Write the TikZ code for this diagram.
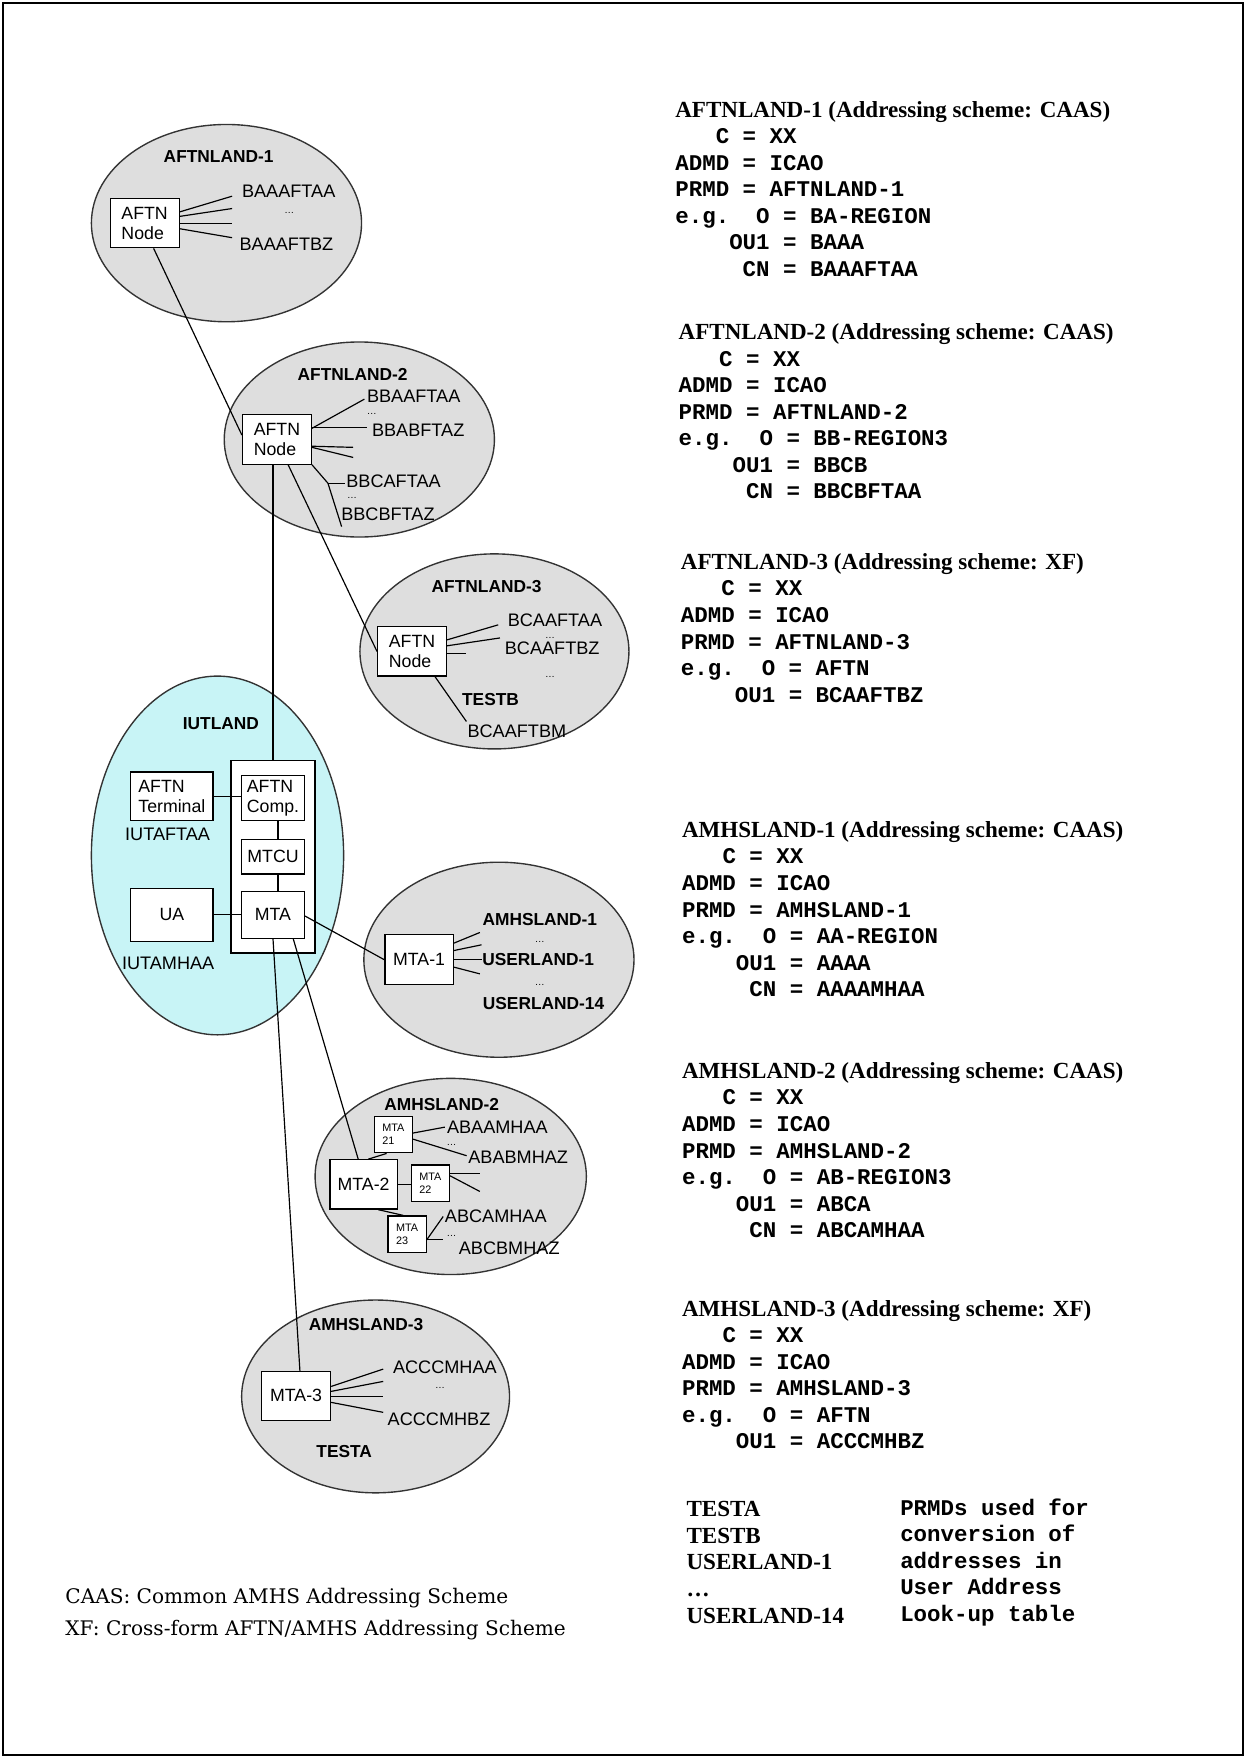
\documentclass[tikz,border=0pt]{standalone}
\usepackage{fontspec}
\setmainfont{Liberation Serif}
\setsansfont{Liberation Sans}
\setmonofont{Liberation Mono}
\newfontfamily\notefont{DejaVu Serif}
\usetikzlibrary{shapes}
\definecolor{iutcyan}{RGB}{200,244,246}

\begin{document}
\begin{tikzpicture}[x=0.02cm,y=-0.02cm]
  %% AFTN / AMHS

  \tikzstyle{every edge}=[draw,line width=.6pt]
  \tikzstyle{pays}=[ellipse,draw=black!80,fill=black!13,line width=.7pt,inner sep=0pt]
  \tikzstyle{boite}=[rectangle,draw,fill=white,line width=.6pt,align=left,inner sep=1pt,
    font=\sffamily\fontsize{9}{10.2}\selectfont]
  \tikzstyle{mini}=[boite,minimum width=.68cm,minimum height=.65cm,
    font=\sffamily\fontsize{5.5}{6.5}\selectfont]
  \tikzstyle{titre}=[inner sep=0pt,font=\sffamily\bfseries\fontsize{8.8}{10}\selectfont]
  \tikzstyle{adr}=[inner sep=0pt,font=\sffamily\fontsize{9.2}{10}\selectfont]
  \tikzstyle{pts}=[inner sep=0pt,font=\sffamily\fontsize{5}{5}\selectfont]
  \tikzstyle{entete}=[anchor=west,inner sep=0pt,text height=1.6ex,text depth=.4ex,
    font=\bfseries\fontsize{11.7}{13}\selectfont]
  \tikzstyle{mono}=[anchor=west,inner sep=0pt,text height=1.6ex,text depth=.4ex,
    font=\ttfamily\bfseries\fontsize{11.4}{13}\selectfont]
  \tikzstyle{note}=[anchor=west,inner sep=0pt,font=\notefont\fontsize{10.2}{12}\selectfont]

  \useasboundingbox (0,0) rectangle (1112,1568);
  \draw[line width=1.1pt] (3,3) rectangle (1109,1565);

  % les pays
  \node[pays,minimum width=4.82cm,minimum height=3.52cm] (aftn1) at (202,199) {};
  \node[pays,minimum width=4.82cm,minimum height=3.48cm] (aftn2) at (320.5,392) {};
  \node[pays,minimum width=4.80cm,minimum height=3.48cm] (aftn3) at (441,581) {};
  \node[pays,fill=iutcyan,minimum width=4.50cm,minimum height=6.40cm] (iut) at (194,763) {};
  \node[pays,minimum width=4.82cm,minimum height=3.48cm] (amhs1) at (445,856) {};
  \node[pays,minimum width=4.84cm,minimum height=3.50cm] (amhs2) at (402,1049.3) {};
  \node[pays,minimum width=4.78cm,minimum height=3.44cm] (amhs3) at (335,1245.5) {};

  % les boites
  \node[boite,minimum width=1.23cm,minimum height=.88cm] (noeud1) at (129,199) {AFTN\\Node};
  \node[boite,minimum width=1.23cm,minimum height=.88cm] (noeud2) at (247,392) {AFTN\\Node};
  \node[boite,minimum width=1.23cm,minimum height=.88cm] (noeud3) at (367.5,581) {AFTN\\Node};
  \node[boite,minimum width=1.47cm,minimum height=.87cm] (term) at (153.3,710.3) {AFTN\\Terminal};
  \node[boite,minimum width=1.47cm,minimum height=.95cm] (ua) at (153.3,816) {UA};
  \node[boite,minimum width=1.50cm,minimum height=3.44cm] (iutbox) at (243.5,764) {};
  \node[boite,minimum width=1.12cm,minimum height=.80cm] (comp) at (243.5,712) {AFTN\\Comp.};
  \node[boite,minimum width=1.12cm,minimum height=.62cm] (mtcu) at (243.5,764) {MTCU};
  \node[boite,minimum width=1.12cm,minimum height=.84cm] (mta) at (243.5,816) {MTA};
  \node[boite,minimum width=1.22cm,minimum height=.89cm] (mta1) at (373.8,856) {MTA-1};
  \node[boite,minimum width=1.20cm,minimum height=.88cm] (mta2) at (324.3,1056.4) {MTA-2};
  \node[mini] (mta21) at (350.8,1012) {MTA\\21};
  \node[mini] (mta22) at (383.9,1055.3) {MTA\\22};
  \node[mini] (mta23) at (363.1,1100.8) {MTA\\23};
  \node[boite,minimum width=1.23cm,minimum height=.87cm] (mta3) at (264.1,1245) {MTA-3};

  % noms et adresses
  \foreach \s/\x/\y/\t [count=\i] in {titre/195/140/AFTNLAND-1, adr/257.5/171/BAAAFTAA,
      pts/258/190/\ldots, adr/255.5/218/BAAAFTBZ,
      titre/314.5/334/AFTNLAND-2, adr/369/353/BBAAFTAA, pts/331.6/369/\ldots,
      adr/373/384/BBABFTAZ, adr/351/429/BBCAFTAA, pts/314/444/\ldots, adr/346/459/BBCBFTAZ,
      titre/434/523/AFTNLAND-3, adr/495/553/BCAAFTAA, pts/490.5/569/\ldots,
      adr/492.5/578/BCAAFTBZ, pts/490.5/603.4/\ldots, titre/437.5/623.5/TESTB,
      adr/461/652.5/BCAAFTBM,
      titre/197/645.6/IUTLAND, adr/149.5/744.6/IUTAFTAA, adr/150/859/IUTAMHAA,
      titre/481.5/820.4/AMHSLAND-1, pts/481.5/840.6/\ldots, titre/480/856/USERLAND-1,
      pts/481.5/878.4/\ldots, titre/484.8/894.7/USERLAND-14,
      titre/394/985.4/AMHSLAND-2, adr/443.6/1005.3/ABAAMHAA, pts/402.8/1021/\ldots,
      adr/462.2/1032/ABABMHAZ, adr/442.2/1084.4/ABCAMHAA, pts/402.8/1102.8/\ldots,
      adr/454.2/1113.2/ABCBMHAZ,
      titre/326.5/1181.6/AMHSLAND-3, adr/396.8/1219.3/ACCCMHAA, pts/392.4/1238/\ldots,
      adr/391.6/1266.3/ACCCMHBZ, titre/307/1294.5/TESTA}{
    \node[\s] (lab\i) at (\x,\y) {\t};
  }

  % eventails vers les adresses
  \foreach \b/\ya/\xb/\yb [count=\i] in {noeud1/189/207/175, noeud1/193/207/186,
      noeud1/199/207/199, noeud1/204/207/212,
      noeud2/382/325/356, noeud2/381/327/381, noeud2/398/315/399, noeud2/399/315/408,
      noeud3/570.7/444.4/557.3, noeud3/576/445.9/569, noeud3/582.5/416/582.5,
      mta1/841.2/428/831.7, mta1/847.8/429.5/842.7, mta1/856/429.5/856, mta1/862.6/428/868.6,
      mta21/1010.6/396.8/1005.3, mta21/1016/416.2/1030.8,
      mta22/1046.9/428/1046.9, mta22/1048.7/428/1062.7,
      mta23/1105.8/395.3/1085, mta23/1105.8/395.3/1105.8,
      mta3/1236.6/341.8/1221.1, mta3/1241/341.8/1232.1,
      mta3/1245.5/341.8/1245.5, mta3/1250.8/341.8/1259.7}{
    \coordinate (f\i) at (\xb,\yb);
    \path (\b.east |- 0,\ya) edge (f\i);
  }
  \coordinate (j2) at (292.5,431);
  \coordinate (g1) at (307.6,431);
  \coordinate (g2) at (304.7,469.7);
  \coordinate (g3) at (416,643.5);
  \path (noeud2.south east) edge (j2)
  (j2) edge (g1)
  (j2) edge (g2)
  (noeud3.south -| 388,0) edge (g3);

  % liaisons
  \path (noeud1.south -| 137,0) edge (noeud2.west |- 0,388)
  (noeud2.south -| iutbox.north) edge (iutbox.north)
  (noeud2.south -| 257,0) edge (noeud3.west)
  (term.east) edge (term.east -| comp.west)
  (ua.east) edge (ua.east -| mta.west)
  (comp.south -| 248,0) edge (mtcu.north -| 248,0)
  (mtcu.south -| 248,0) edge (mta.north -| 248,0)
  (mta.east |- 0,817) edge (mta1.west)
  (mta.south) edge (mta3.north -| 267.5,0)
  (mta.south -| 261.6,0) edge (mta2.north -| 319.5,0)
  (mta2.north -| 328.4,0) edge (mta21.south -| 344.8,0)
  (mta2.east) edge (mta2.east -| mta22.west)
  (mta2.south -| 337.4,0) edge (mta23.north -| 359.7,0);

  % schemas d'adressage
  \node[entete] (b1) at (602,99.6) {AFTNLAND-1 (Addressing scheme: CAAS)};
  \foreach \t [count=\i] in {~~~C = XX,ADMD = ICAO,PRMD = AFTNLAND-1,e.g.~~O = BA-REGION,
      ~~~~OU1 = BAAA,~~~~~CN = BAAAFTAA}
    \node[mono] (b1-\i) at (602,{99.6+23.7*\i}) {\t};

  \node[entete] (b2) at (605,298) {AFTNLAND-2 (Addressing scheme: CAAS)};
  \foreach \t [count=\i] in {~~~C = XX,ADMD = ICAO,PRMD = AFTNLAND-2,e.g.~~O = BB-REGION3,
      ~~~~OU1 = BBCB,~~~~~CN = BBCBFTAA}
    \node[mono] (b2-\i) at (605,{298+23.7*\i}) {\t};

  \node[entete] (b3) at (607,503) {AFTNLAND-3 (Addressing scheme: XF)};
  \foreach \t [count=\i] in {~~~C = XX,ADMD = ICAO,PRMD = AFTNLAND-3,e.g.~~O = AFTN,
      ~~~~OU1 = BCAAFTBZ}
    \node[mono] (b3-\i) at (607,{503+23.7*\i}) {\t};

  \node[entete] (b4) at (608,742) {AMHSLAND-1 (Addressing scheme: CAAS)};
  \foreach \t [count=\i] in {~~~C = XX,ADMD = ICAO,PRMD = AMHSLAND-1,e.g.~~O = AA-REGION,
      ~~~~OU1 = AAAA,~~~~~CN = AAAAMHAA}
    \node[mono] (b4-\i) at (608,{742+23.7*\i}) {\t};

  \node[entete] (b5) at (608,957) {AMHSLAND-2 (Addressing scheme: CAAS)};
  \foreach \t [count=\i] in {~~~C = XX,ADMD = ICAO,PRMD = AMHSLAND-2,e.g.~~O = AB-REGION3,
      ~~~~OU1 = ABCA,~~~~~CN = ABCAMHAA}
    \node[mono] (b5-\i) at (608,{957+23.7*\i}) {\t};

  \node[entete] (b6) at (608,1169) {AMHSLAND-3 (Addressing scheme: XF)};
  \foreach \t [count=\i] in {~~~C = XX,ADMD = ICAO,PRMD = AMHSLAND-3,e.g.~~O = AFTN,
      ~~~~OU1 = ACCCMHBZ}
    \node[mono] (b6-\i) at (608,{1169+23.7*\i}) {\t};

  % PRMD de la table
  \foreach \t [count=\i] in {TESTA,TESTB,USERLAND-1,\dots,USERLAND-14}
    \node[entete] (u\i) at (612,{1324.3+23.7*\i}) {\t};
  \foreach \t [count=\i] in {PRMDs used for,conversion of,addresses in,User Address,Look-up table}
    \node[mono] (v\i) at (802.6,{1322.8+23.7*\i}) {\t};

  \node[note] (caas) at (58,1425.3) {CAAS: Common AMHS Addressing Scheme};
  \node[note] (xf) at (58,1453.6) {XF: Cross-form AFTN/AMHS Addressing Scheme};
\end{tikzpicture}
\end{document}
